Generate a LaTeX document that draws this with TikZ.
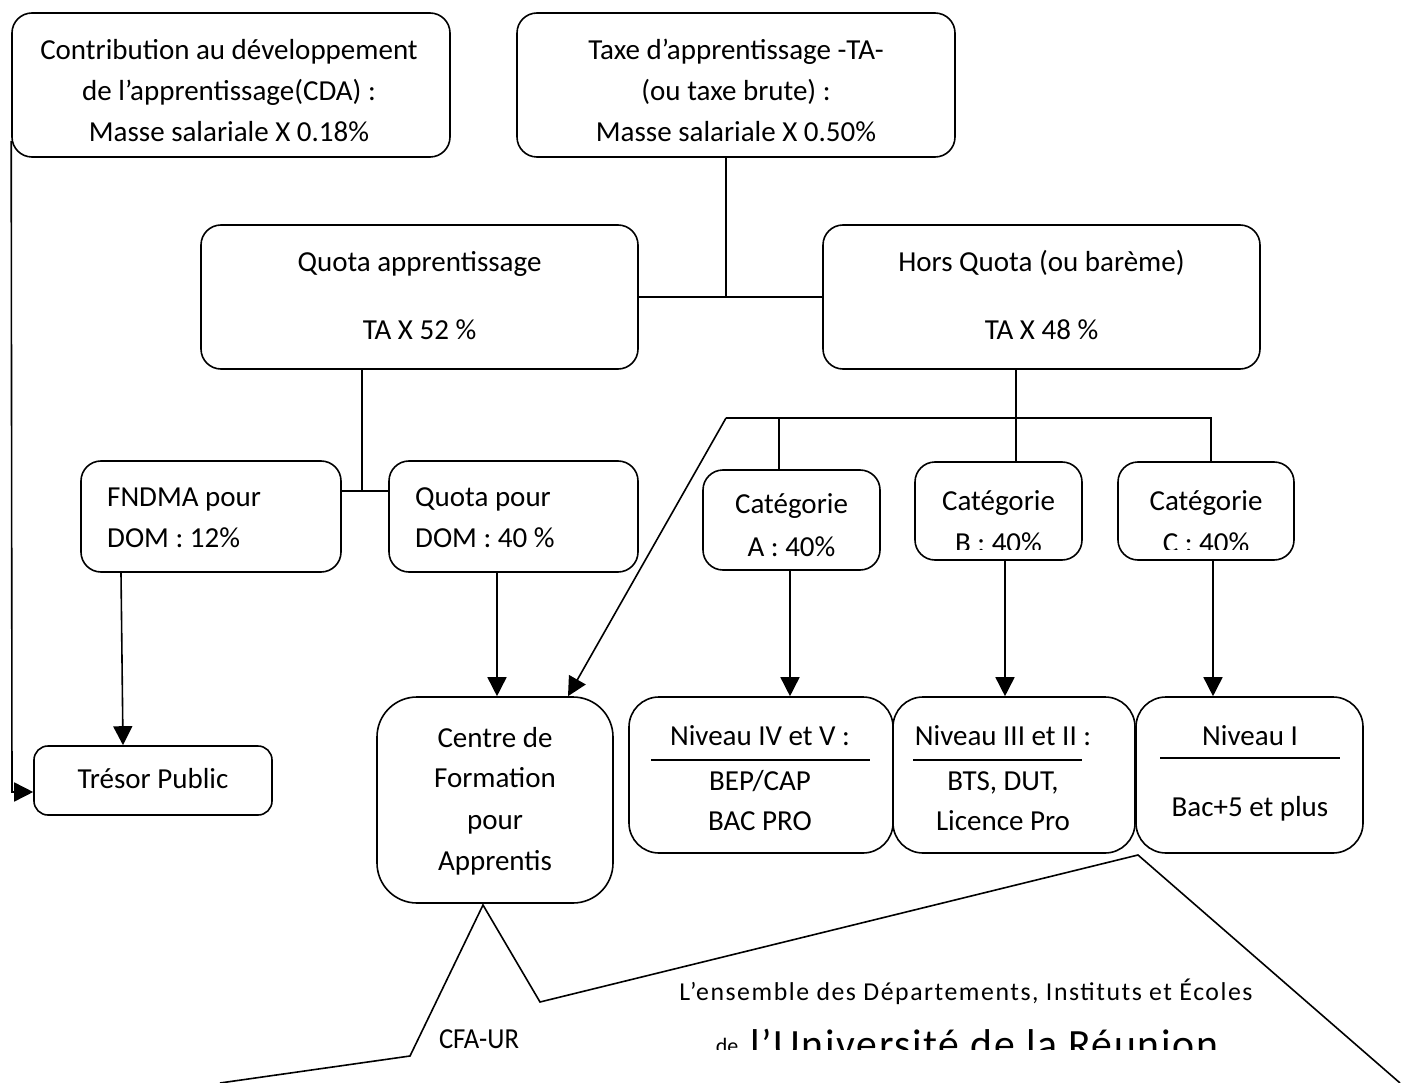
\documentclass[tikz,border=0pt]{standalone}
\usepackage{fontspec}
\setmainfont{Carlito}
\usetikzlibrary{arrows.meta}
\begin{document}
\begin{tikzpicture}[x=1pt,y=-1pt,
  box/.style={draw, line width=1.6pt, rounded corners=20pt, inner sep=0pt},
  txt/.style={font=\fontsize{29}{41}\selectfont, inner sep=0pt, anchor=base},
  ltxt/.style={txt, anchor=base west},
  conn/.style={line width=1.6pt},
  arr/.style={line width=1.6pt, -{Triangle[length=19pt,width=19pt]}},
  rule/.style={line width=1.6pt}]
\useasboundingbox (0,0) rectangle (1406,1083);
% boxes
\node[box, minimum width=438pt, minimum height=144pt] (cda) at (231,85) {};
\node[box, minimum width=438pt, minimum height=144pt] (ta) at (736,85) {};
\node[box, minimum width=437pt, minimum height=144pt] (qa) at (419.5,297) {};
\node[box, minimum width=437pt, minimum height=144pt] (hq) at (1041.5,297) {};
\node[box, minimum width=260pt, minimum height=111pt] (fn) at (211,516.5) {};
\node[box, minimum width=249pt, minimum height=111pt] (qd) at (513.5,516.5) {};
\node[box, minimum width=177pt, minimum height=100pt] (ca) at (791.5,520) {};
\node[box, minimum width=167pt, minimum height=98pt] (cb) at (998.5,511) {};
\node[box, minimum width=176pt, minimum height=98pt] (cc) at (1206,511) {};
\node[box, minimum width=236pt, minimum height=206pt, rounded corners=40pt] (cfa) at (495,800) {};
\node[box, minimum width=264pt, minimum height=156pt, rounded corners=30pt] (n1) at (761,775) {};
\node[box, minimum width=242pt, minimum height=156pt, rounded corners=30pt] (n2) at (1014,775) {};
\node[box, minimum width=227pt, minimum height=156pt, rounded corners=30pt] (n3) at (1249.5,775) {};
\node[box, minimum width=238pt, minimum height=69pt, rounded corners=14pt] (tp) at (153,780.5) {};
% texts
\node[txt] (cdaA) at (229,60) {Contribution au développement};
\node[txt] (cdaB) at (229,101) {de l’apprentissage(CDA) :};
\node[txt] (cdaC) at (229,142) {Masse salariale X 0.18\%};
\node[txt] (taA) at (736,60) {Taxe d’apprentissage -TA-};
\node[txt] (taB) at (736,101) {(ou taxe brute) :};
\node[txt] (taC) at (736,142) {Masse salariale X 0.50\%};
\node[txt] (qaA) at (419.5,272) {Quota apprentissage};
\node[txt] (qaB) at (419.5,340) {TA X 52 \%};
\node[txt] (hqA) at (1041.5,272) {Hors Quota (ou barème)};
\node[txt] (hqB) at (1041.5,340) {TA X 48 \%};
\node[ltxt] (fnA) at (107,506) {FNDMA pour};
\node[ltxt] (fnB) at (107,547) {DOM : 12\%};
\node[ltxt] (qdA) at (415,506) {Quota pour};
\node[ltxt] (qdB) at (415,547) {DOM : 40 \%};
\node[txt] (caA) at (791.5,513) {Catégorie};
\node[txt] (caB) at (791.5,556) {A : 40\%};
\node[txt] (cbA) at (998.5,510) {Catégorie};
\node[txt] (ccA) at (1206,510) {Catégorie};
\begin{scope}
\clip (900,520) rectangle (1300,549);
\node[txt] (cbB) at (998.5,552) {B : 40\%};
\node[txt] (ccB) at (1206,552) {C : 40\%};
\end{scope}
\node[txt] (cfaA) at (495,747) {Centre de};
\node[txt] (cfaB) at (495,787) {Formation};
\node[txt] (cfaC) at (495,829) {pour};
\node[txt] (cfaD) at (495,870) {Apprentis};
\node[txt] (n1A) at (760,745) {Niveau IV et V :};
\node[txt] (n1B) at (760,790) {BEP/CAP};
\node[txt] (n1C) at (760,830) {BAC PRO};
\node[txt] (n2A) at (1003,745) {Niveau III et II :};
\node[txt] (n2B) at (1003,790) {BTS, DUT,};
\node[txt] (n2C) at (1003,830) {Licence Pro};
\node[txt] (n3A) at (1250,745) {Niveau I};
\node[txt] (n3B) at (1250,816) {Bac+5 et plus};
\node[txt] (tpA) at (153,788) {Trésor Public};
\draw[rule] (651,760) -- (870,760);
\draw[rule] (913,760) -- (1082,760);
\draw[rule] (1160,758) -- (1340,758);
% connectors
\coordinate (j1) at (726,297);
\draw[conn] (ta.south -| j1) -- (j1);
\draw[conn] (qa.east) -- (hq.west);
\coordinate (j2) at (362,491);
\draw[conn] (qa.south -| j2) -- (j2);
\draw[conn] (fn.east |- j2) -- (qd.west |- j2);
\coordinate (h0) at (726,418);
\coordinate (h1) at (779,418);
\coordinate (h3) at (1211,418);
\draw[conn] (h0) -- (h3) -- (cc.north -| h3);
\draw[conn] (h1) -- (ca.north -| h1);
\draw[conn] (hq.south -| 1016,0) -- (cb.north -| 1016,0);
\draw[arr] (h0) -- (cfa.north -| 568,0);
\draw[arr] (qd.south -| 497,0) -- (cfa.north -| 497,0);
\draw[arr] (ca.south -| 790,0) -- (n1.north -| 790,0);
\draw[arr] (cb.south -| 1005,0) -- (n2.north -| 1005,0);
\draw[arr] (cc.south -| 1213,0) -- (n3.north -| 1213,0);
\draw[arr] (fn.south -| 121,0) -- (tp.north -| 123,0);
\coordinate (c0) at (12,792);
\draw[arr] (cda.west |- 0,141) -- (c0) -- (tp.west |- c0);
% bottom callout
\coordinate (b0) at (483,905);
\coordinate (bl) at (410,1056);
\coordinate (br) at (540,1002);
\coordinate (bc) at (1138,855);
\draw[conn] (220,1083) -- (bl) -- (b0) -- (br) -- (bc) -- (1400,1083);
\node[txt] (cfaur) at (479,1048) {\scalebox{0.92}[1]{CFA-UR}};
\node[txt, font=\fontsize{23}{26}\selectfont\addfontfeature{LetterSpace=6}] (ens) at (966,1000) {\resizebox{573pt}{!}{L’ensemble des Départements, Instituts et Écoles}};
\begin{scope}
\clip (700,1000) rectangle (1300,1049);
\node[txt, font=\fontsize{22}{24}\selectfont] (de) at (727,1053) {de};
\node[txt, font=\fontsize{44}{48}\selectfont\addfontfeature{LetterSpace=4}, anchor=base west] (univ) at (750,1058) {\resizebox{468pt}{!}{l’Université de la Réunion}};
\end{scope}
\end{tikzpicture}
\end{document}
